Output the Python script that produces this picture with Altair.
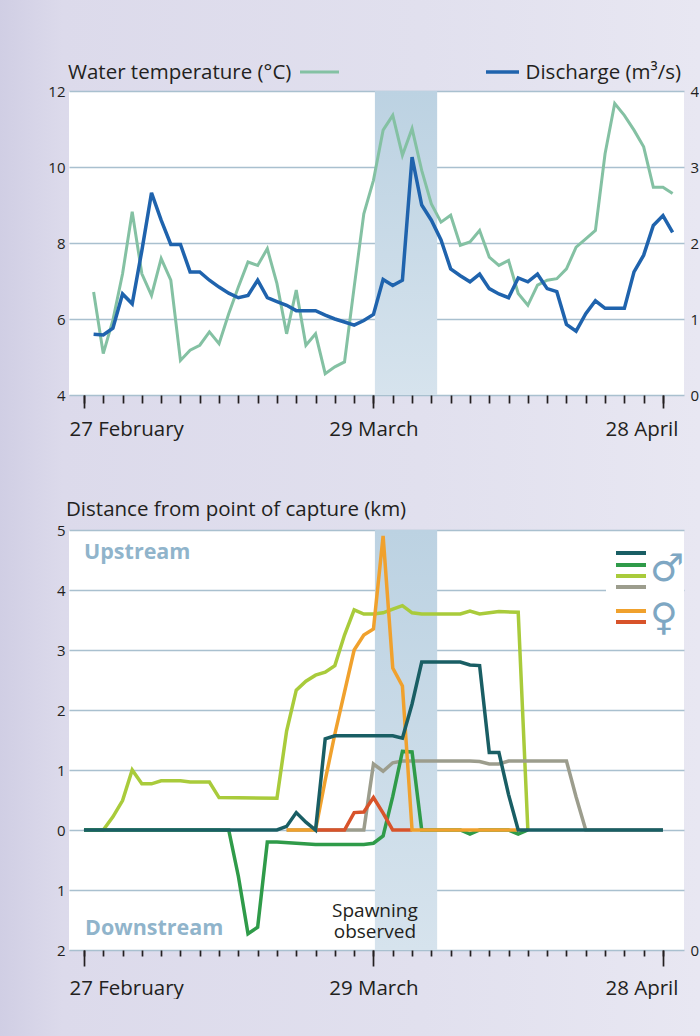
import altair as alt
import pandas as pd

# ---------------- data ----------------
tick_days = [0, 30, 60]
tick_labels = ["27 February", "29 March", "28 April"]
minor_tick_days = list(range(0, 61, 2))

spawn_start = 30.15
spawn_end = 36.6

top_titles = ["Water temperature (°C)", "Discharge (m³/s)"]
bottom_title = "Distance from point of capture (km)"
bottom_notes = ["Upstream", "Downstream", "Spawning\nobserved"]
sex_symbols = ["♂", "♀"]

temp_days = list(range(1, 62))
temperature = [6.71, 5.09, 5.97, 7.19, 8.82, 7.19, 6.62, 7.59, 7.02, 4.91,
               5.18, 5.31, 5.66, 5.35, 6.14, 6.84, 7.50, 7.41, 7.85, 6.93,
               5.61, 6.76, 5.31, 5.61, 4.56, 4.74, 4.87, 6.84, 8.77, 9.65,
               10.97, 11.36, 10.31, 11.01, 9.91, 9.03, 8.55, 8.73, 7.94, 8.03,
               8.33, 7.63, 7.41, 7.54, 6.67, 6.36, 6.89, 7.02, 7.06, 7.32,
               7.89, 8.11, 8.33, 10.35, 11.67, 11.36, 10.97, 10.53, 9.47, 9.47,
               9.30]
discharge = [0.80, 0.79, 0.88, 1.33, 1.20, 1.90, 2.66, 2.30, 1.98, 1.98,
             1.62, 1.62, 1.51, 1.42, 1.34, 1.28, 1.31, 1.51, 1.28, 1.23,
             1.18, 1.11, 1.11, 1.11, 1.05, 1.00, 0.96, 0.92, 0.98, 1.06,
             1.52, 1.44, 1.51, 3.13, 2.50, 2.30, 2.04, 1.66, 1.57, 1.49,
             1.59, 1.40, 1.33, 1.28, 1.54, 1.49, 1.59, 1.40, 1.36, 0.93,
             0.84, 1.07, 1.24, 1.14, 1.14, 1.14, 1.62, 1.84, 2.23, 2.36,
             2.14]

# distance from capture point (km, upstream positive, downstream negative)
lime_days = [0, 2, 3, 4, 5, 6, 7, 8, 10, 11, 13, 14, 20, 21, 22, 23, 24, 25, 26,
             27, 28, 29, 30, 31, 32, 33, 34, 35, 39, 40, 41, 42, 43, 45, 46]
lime_km = [0, 0, 0.22, 0.49, 1.0, 0.77, 0.77, 0.82, 0.82, 0.80, 0.80, 0.54, 0.53,
           1.65, 2.33, 2.48, 2.58, 2.63, 2.74, 3.25, 3.67, 3.60, 3.60, 3.62, 3.68,
           3.74, 3.62, 3.60, 3.60, 3.65, 3.60, 3.62, 3.64, 3.63, 0]

gray_days = [21, 29, 30, 31, 32, 33, 40, 41, 42, 43, 44, 50, 51, 52, 60]
gray_km = [0, 0, 1.10, 0.98, 1.12, 1.15, 1.15, 1.14, 1.10, 1.10, 1.15, 1.15, 0.55, 0, 0]

green_days = [0, 15, 16, 17, 18, 19, 20, 24, 29, 30, 31, 32, 33, 34, 35, 39, 40, 41,
              44, 45, 46]
green_km = [0, 0, -0.77, -1.73, -1.62, -0.20, -0.20, -0.24, -0.24, -0.22, -0.10, 0.56,
            1.31, 1.30, 0, 0, -0.07, 0, 0, -0.07, 0]

red_days = [24, 27, 28, 29, 30, 31, 32, 34]
red_km = [0, 0, 0.29, 0.30, 0.54, 0.28, 0, 0]

orange_days = [21, 24, 25, 26, 27, 28, 29, 30, 31, 32, 33, 34, 45]
orange_km = [0, 0, 0.83, 1.60, 2.30, 3.00, 3.25, 3.35, 4.90, 2.70, 2.40, 0, 0]

teal_days = [0, 20, 21, 22, 23, 24, 25, 26, 32, 33, 34, 35, 39, 40, 41, 42, 43, 44, 45, 60]
teal_km = [0, 0, 0.06, 0.29, 0.13, 0, 1.52, 1.57, 1.57, 1.53, 2.10, 2.80, 2.80, 2.75,
           2.74, 1.29, 1.29, 0.59, 0, 0]

series_order = ["lime", "gray", "green", "red", "orange", "teal"]
series_data = {
    "lime": (lime_days, lime_km),
    "gray": (gray_days, gray_km),
    "green": (green_days, green_km),
    "red": (red_days, red_km),
    "orange": (orange_days, orange_km),
    "teal": (teal_days, teal_km),
}

# ---------------- style ----------------
FONT = "Open Sans"
INK = "#231f20"
GRID = "#a9c0cf"
BG = "#dedded"
TEMP_C = "#84c1a3"
DIS_C = "#1f63ad"
NOTE_C = "#90b4cb"
SYM_C = "#7ea7c3"
SERIES_COLORS = {"lime": "#a9cb3b", "gray": "#9c9d8d", "green": "#2f9b49",
                 "red": "#d8532a", "orange": "#f0a12d", "teal": "#195e64"}

W = 615
H1 = 304
H2 = 420

x_scale = alt.Scale(domain=[-1.55, 62.18], nice=False, zero=False)
label_expr = ("datum.value == %d ? '%s' : datum.value == %d ? '%s' : '%s'"
              % (tick_days[0], tick_labels[0], tick_days[1], tick_labels[1], tick_labels[2]))

band_grad = alt.LinearGradient(
    gradient="linear", x1=0, x2=0, y1=0, y2=1,
    stops=[alt.GradientStop(color="#bcd2e2", offset=0),
           alt.GradientStop(color="#d6e3ed", offset=1)])


def major_axis(tick, pad):
    return alt.Axis(orient="bottom", values=tick_days, labelExpr=label_expr,
                    tickSize=tick, tickWidth=1.7, tickColor=INK, domain=False,
                    grid=False, title=None, labelFontSize=20.5, labelFont=FONT,
                    labelColor=INK, labelPadding=pad, labelFlush=25,
                    labelFlushOffset=15)


def minor_axis(tick):
    return alt.Axis(orient="bottom", values=minor_tick_days, labels=False,
                    tickSize=tick, tickWidth=1.7, tickColor=INK, domain=False,
                    grid=False, title=None)


def y_left(vals, expr=None):
    kw = dict(orient="left", values=vals, title=None, grid=True, gridColor=GRID,
              gridWidth=1.5, domain=False, ticks=False, labelFontSize=15,
              labelFont=FONT, labelColor=INK, labelPadding=4)
    if expr:
        kw["labelExpr"] = expr
    return alt.Axis(**kw)


def y_right(vals, expr=None):
    kw = dict(orient="right", values=vals, title=None, grid=False, domain=False,
              ticks=False, labelFontSize=15, labelFont=FONT, labelColor=INK,
              labelPadding=6)
    if expr:
        kw["labelExpr"] = expr
    return alt.Axis(**kw)


one = pd.DataFrame({"k": [0]})

# ---------------- top chart ----------------
top_df = pd.DataFrame({"day": temp_days, "temperature": temperature,
                       "discharge": discharge})
band_df = pd.DataFrame({"start": [spawn_start], "end": [spawn_end],
                        "lo": [-2], "hi": [5]})

band_top = alt.Chart(band_df).mark_rect(color=band_grad).encode(
    x=alt.X("start:Q", scale=x_scale, axis=None), x2="end:Q",
    y=alt.value(0), y2=alt.value(H1))

temp_line = alt.Chart(top_df).mark_line(color=TEMP_C, strokeWidth=3).encode(
    x=alt.X("day:Q", scale=x_scale, axis=major_axis(13, 11)),
    y=alt.Y("temperature:Q", scale=alt.Scale(domain=[4, 12], nice=False, zero=False),
            axis=y_left([4, 6, 8, 10, 12])))

disc_line = alt.Chart(top_df).mark_line(color=DIS_C, strokeWidth=3.5).encode(
    x=alt.X("day:Q", scale=x_scale, axis=minor_axis(8)),
    y=alt.Y("discharge:Q", scale=alt.Scale(domain=[0, 4], nice=False),
            axis=y_right([0, 1, 2, 3, 4])))

t_title = alt.Chart(one).mark_text(text=top_titles[0], align="left", baseline="alphabetic",
                                   font=FONT, fontSize=20.5, color=INK).encode(
    x=alt.value(-1), y=alt.value(-12))
t_sw = alt.Chart(one).mark_rule(color=TEMP_C, strokeWidth=3).encode(
    x=alt.value(231), x2=alt.value(270), y=alt.value(-19))
d_title = alt.Chart(one).mark_text(text=top_titles[1], align="right", baseline="alphabetic",
                                   font=FONT, fontSize=20.5, color=INK).encode(
    x=alt.value(612), y=alt.value(-12))
d_sw = alt.Chart(one).mark_rule(color=DIS_C, strokeWidth=3.5).encode(
    x=alt.value(417), x2=alt.value(450), y=alt.value(-19))

top = alt.layer(band_top, temp_line, disc_line, t_title, t_sw, d_title, d_sw).resolve_scale(
    y="independent").resolve_axis(x="independent").properties(width=W, height=H1)

# ---------------- bottom chart ----------------
y2_scale = alt.Scale(domain=[-2, 5], nice=False, zero=False)

band_bot = alt.Chart(band_df).mark_rect(color=band_grad).encode(
    x=alt.X("start:Q", scale=x_scale, axis=None), x2="end:Q",
    y=alt.Y("hi:Q", scale=y2_scale, axis=y_right([-2], "'0'")),
    y2="lo:Q")

legend_bg = alt.Chart(one).mark_rect(color="white").encode(
    x=alt.value(537), x2=alt.value(W), y=alt.value(14), y2=alt.value(101))

layers = [band_bot, legend_bg]
for i, name in enumerate(series_order):
    d, v = series_data[name]
    df = pd.DataFrame({"day": d, "km": v})
    if i == 0:
        xa = major_axis(16, 12)
        ya = y_left([-2, -1, 0, 1, 2, 3, 4, 5], "abs(datum.value)")
    elif i == 1:
        xa = minor_axis(6)
        ya = None
    else:
        xa = None
        ya = None
    layers.append(alt.Chart(df).mark_line(color=SERIES_COLORS[name], strokeWidth=3.5).encode(
        x=alt.X("day:Q", scale=x_scale, axis=xa),
        y=alt.Y("km:Q", scale=y2_scale, axis=ya)))

b_title = alt.Chart(one).mark_text(text=bottom_title, align="left", baseline="alphabetic",
                                   font=FONT, fontSize=20.5, color=INK).encode(
    x=alt.value(-3), y=alt.value(-14))
up_txt = alt.Chart(one).mark_text(text=bottom_notes[0], align="left", baseline="middle",
                                  font=FONT, fontSize=21.5, fontWeight="bold", color=NOTE_C).encode(
    x=alt.value(15), y=alt.value(23))
down_txt = alt.Chart(one).mark_text(text=bottom_notes[1], align="left", baseline="middle",
                                    font=FONT, fontSize=21.5, fontWeight="bold", color=NOTE_C).encode(
    x=alt.value(16), y=alt.value(399))
spawn_txt = alt.Chart(one).mark_text(text=bottom_notes[2], align="center", baseline="middle",
                                     lineBreak="\n", lineHeight=21, font=FONT, fontSize=19,
                                     color=INK).encode(
    x=alt.XDatum(spawn_start, scale=x_scale, axis=None), y=alt.value(381))
layers += [b_title, up_txt, down_txt, spawn_txt]

male_ys = [23, 35, 46, 57]
male_cols = ["teal", "green", "lime", "gray"]
for yy, c in zip(male_ys, male_cols):
    layers.append(alt.Chart(one).mark_rule(color=SERIES_COLORS[c], strokeWidth=4).encode(
        x=alt.value(547), x2=alt.value(577), y=alt.value(yy)))
female_ys = [81, 92]
female_cols = ["orange", "red"]
for yy, c in zip(female_ys, female_cols):
    layers.append(alt.Chart(one).mark_rule(color=SERIES_COLORS[c], strokeWidth=4).encode(
        x=alt.value(547), x2=alt.value(577), y=alt.value(yy)))
layers.append(alt.Chart(one).mark_text(text=sex_symbols[0], align="center", baseline="middle",
                                       font="DejaVu Sans", fontSize=38, color=SYM_C).encode(
    x=alt.value(598), y=alt.value(40)))
layers.append(alt.Chart(one).mark_text(text=sex_symbols[1], align="center", baseline="middle",
                                       font="DejaVu Sans", fontSize=38, color=SYM_C).encode(
    x=alt.value(595), y=alt.value(89)))

bottom = alt.layer(*layers).resolve_scale(y="independent").resolve_axis(
    x="independent").properties(width=W, height=H2)

chart = alt.vconcat(top, bottom, spacing=60).properties(
    padding={"left": 47, "top": 63, "right": 0, "bottom": 0}
).configure(background="transparent").configure_view(fill="white", stroke=None)

chart.save("out.html", embed_options={"renderer": "svg", "actions": False})

# page colour behind the chart (soft lavender wash); the page margin is folded
# into the chart padding
with open("out.html", encoding="utf-8") as f:
    html = f.read()
css = ("<style>html,body{margin:0;min-height:100%%;background:%s;"
       "background-image:linear-gradient(to right,#d0cee4 0%%,#dcdaeb 9%%,"
       "#e1e0ee 60%%,#e8e7f2 100%%);}</style>" % BG)
html = html.replace("<head>", "<head>" + css, 1)
with open("out.html", "w", encoding="utf-8") as f:
    f.write(html)
